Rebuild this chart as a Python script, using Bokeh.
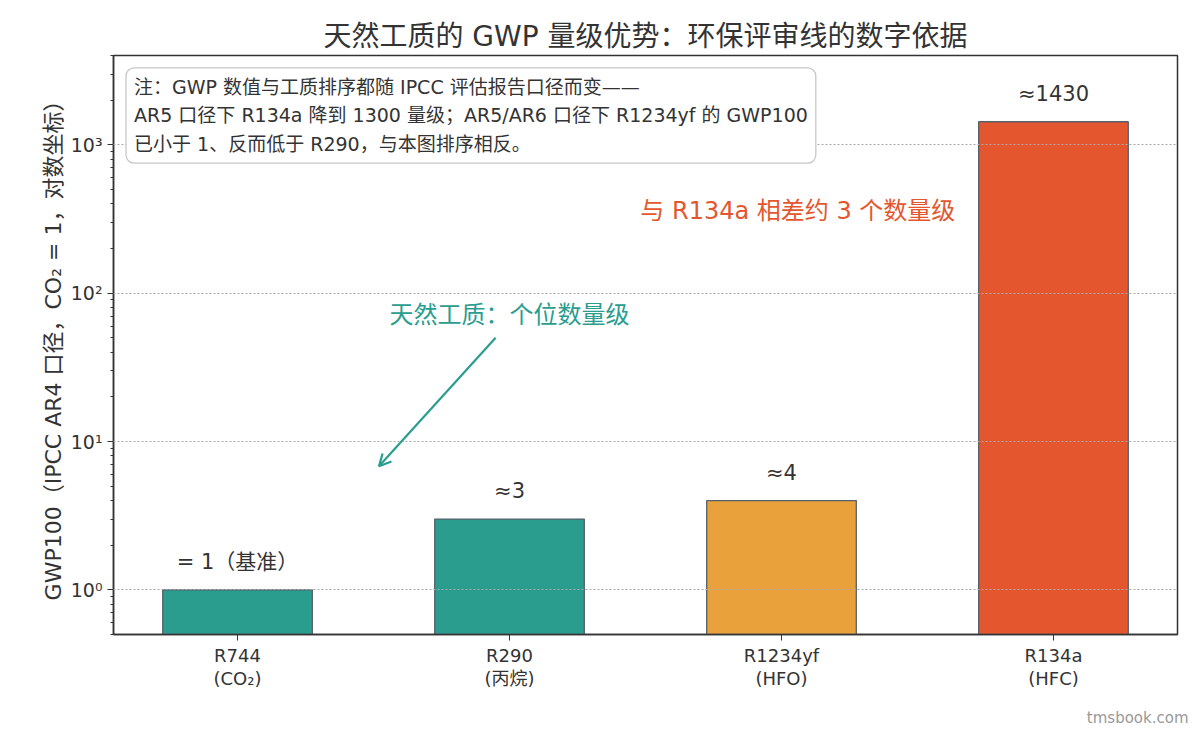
from bokeh.plotting import figure
from bokeh.models import (ColumnDataSource, FixedTicker, Label, Arrow,
                          OpenHead, Range1d, LogTicker, Title)
from bokeh.embed import file_html
from bokeh.resources import INLINE

FONT = "DejaVu Sans, Noto Sans CJK SC"

# data
refrigerants = ["R744", "R290", "R1234yf", "R134a"]
sub_labels = ["(CO₂)", "(丙烷)", "(HFO)", "(HFC)"]
gwp100 = [1, 3, 4, 1430]
value_texts = ["= 1（基准）", "≈3", "≈4", "≈1430"]
bar_colors = ["#2a9d8f", "#2a9d8f", "#e9a23b", "#e4572e"]

title_text = "天然工质的 GWP 量级优势：环保评审线的数字依据"
y_label = "GWP100（IPCC AR4 口径，CO₂ = 1，对数坐标）"
note_text = ("注：GWP 数值与工质排序都随 IPCC 评估报告口径而变——\n"
             "AR5 口径下 R134a 降到 1300 量级；AR5/AR6 口径下 R1234yf 的 GWP100\n"
             "已小于 1、反而低于 R290，与本图排序相反。")
gap_text = "与 R134a 相差约 3 个数量级"
natural_text = "天然工质：个位数量级"
watermark = "tmsbook.com"

xs = list(range(len(refrigerants)))
src = ColumnDataSource(dict(x=xs, top=gwp100, color=bar_colors,
                            label=value_texts))

p = figure(width=1200, height=752, y_axis_type="log",
           x_range=Range1d(-0.456, 3.456), y_range=Range1d(0.5, 4000),
           output_backend="svg", toolbar_location=None,
           min_border_left=113, min_border_right=23,
           min_border_top=55, min_border_bottom=118)

p.title.text = title_text
p.title.align = "center"
p.title.text_font = FONT
p.title.text_font_size = "28px"
p.title.text_font_style = "normal"
p.title.text_color = "#333333"
p.title.standoff = 6

p.vbar(x="x", top="top", bottom=0.001, width=0.55, source=src,
       fill_color="color", line_color="#56606b", line_width=1.3)

p.text(x="x", y="top", text="label", source=src, text_align="center",
       text_baseline="bottom", y_offset=-16, text_font_size="21px",
       text_font={"value": FONT}, text_color="#333333")

# axes
p.xaxis.ticker = FixedTicker(ticks=xs)
p.xaxis.major_label_overrides = {i: f"{r}\n{s}" for i, (r, s) in
                                 enumerate(zip(refrigerants, sub_labels))}
p.yaxis.ticker = LogTicker(desired_num_ticks=5, num_minor_ticks=10)
p.yaxis.major_label_overrides = {1: "10⁰", 10: "10¹", 100: "10²", 1000: "10³"}
for ax in (p.xaxis, p.yaxis):
    ax.major_label_text_font = FONT
    ax.major_label_text_color = "#333333"
    ax.axis_line_color = "#333333"
    ax.axis_line_width = 1.5
    ax.major_tick_line_color = "#333333"
    ax.major_tick_in = 0
    ax.major_tick_out = 6
    ax.minor_tick_line_color = "#333333"
    ax.minor_tick_in = 0
    ax.minor_tick_out = 3
p.xaxis.minor_tick_line_color = None
p.xaxis.major_label_text_font_size = "18px"
p.xaxis.major_label_text_line_height = 1.1
p.xaxis.major_label_standoff = 4
p.yaxis.major_label_text_font_size = "19px"
p.yaxis.axis_label = y_label
p.yaxis.axis_label_text_font = FONT
p.yaxis.axis_label_text_font_size = "22px"
p.yaxis.axis_label_text_font_style = "normal"
p.yaxis.axis_label_text_color = "#333333"
p.yaxis.axis_label_standoff = 2

p.xgrid.grid_line_color = None
p.ygrid.grid_line_color = "#aaaaaa"
p.ygrid.grid_line_dash = "2 2"
p.ygrid.grid_line_width = 1.2
p.ygrid.level = "guide"

p.outline_line_color = "#333333"
p.outline_line_width = 1.5
p.outline_line_alpha = 1

# annotations
p.add_layout(Label(x=-0.41, y=3300, text=note_text, text_font=FONT,
                   text_font_size="19px", text_color="#333333",
                   text_baseline="top", text_line_height=1.3,
                   background_fill_color="white",
                   border_line_color="#c8c8c8", border_line_width=1.3,
                   border_radius=8, padding=8))
p.add_layout(Label(x=2.06, y=357, text=gap_text, text_font=FONT,
                   text_font_size="24px", text_color="#e4572e",
                   text_align="center", text_baseline="middle"))
p.add_layout(Label(x=1.0, y=71, text=natural_text, text_font=FONT,
                   text_font_size="24px", text_color="#2a9d8f",
                   text_align="center", text_baseline="middle"))
p.add_layout(Arrow(x_start=0.949, y_start=50, x_end=0.52, y_end=6.8,
                   line_color="#2a9d8f", line_width=2.2,
                   end=OpenHead(size=12, line_color="#2a9d8f", line_width=2.2)))
p.add_layout(Title(text=watermark, align="right", offset=-11, standoff=30,
                   text_font=FONT, text_font_size="15px",
                   text_font_style="normal", text_color="#999999"), "below")

open("out.html", "w").write(file_html(p, INLINE))
